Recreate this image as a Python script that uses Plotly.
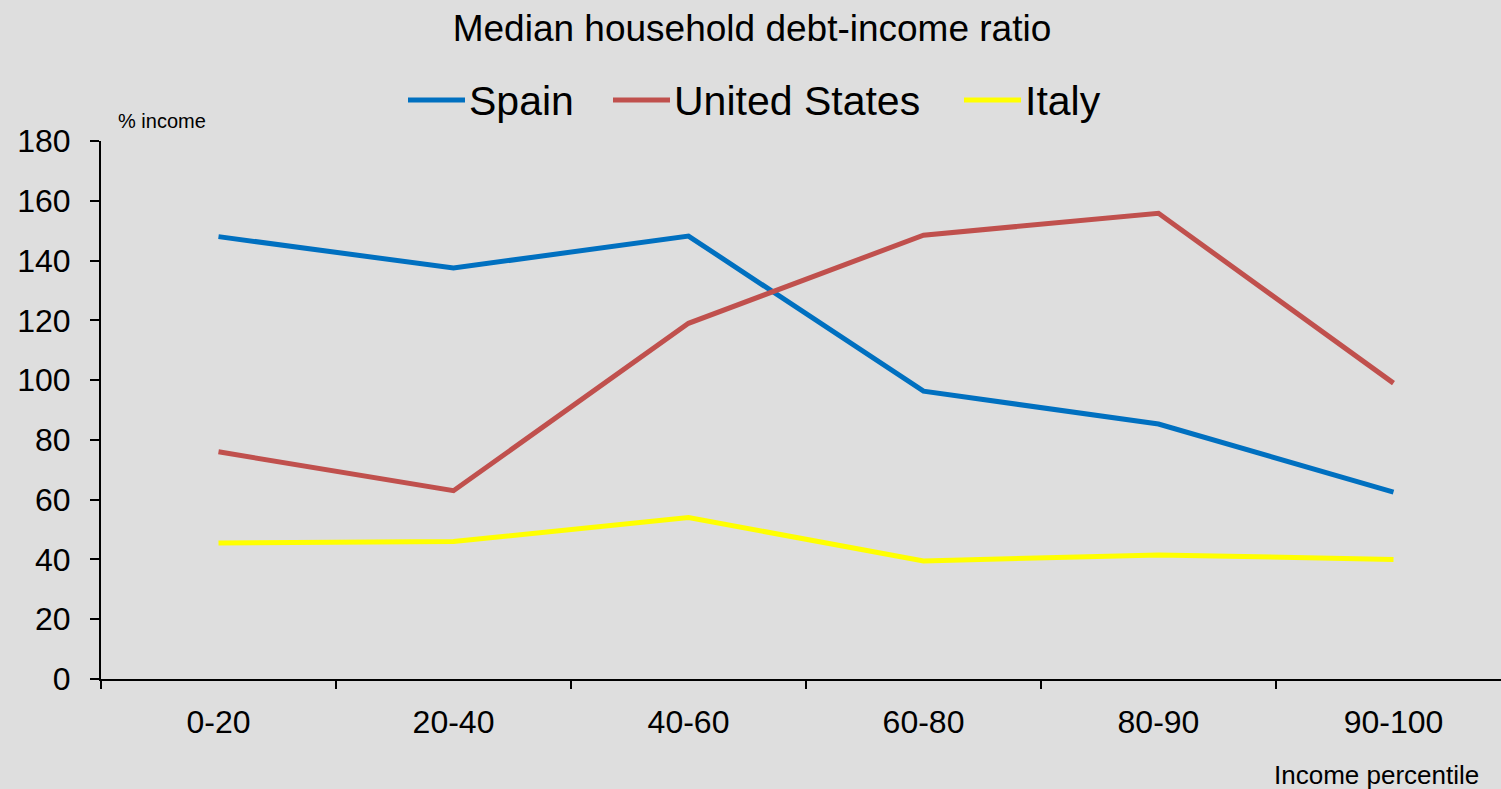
import plotly.graph_objects as go

# Income percentile groups
percentiles = ["0-20", "20-40", "40-60", "60-80", "80-90", "90-100"]

# Median debt-to-income ratio (% of income) by country
spain = [148, 137.5, 148.2, 96.3, 85.3, 62.5]
united_states = [76, 63, 119, 148.5, 155.8, 99]
italy = [45.5, 46, 54, 39.5, 41.5, 40]

y_ticks = [0, 20, 40, 60, 80, 100, 120, 140, 160, 180]

series = [
    ("Spain", spain, "#0070C0"),
    ("United States", united_states, "#C0504D"),
    ("Italy", italy, "#FFFF00"),
]

FONT = "Liberation Sans, Arial, sans-serif"
BG = "#DEDEDE"
W, H = 1501, 789
L, T, B = 101, 141, 110
PW, PH = W - L, H - T - B


def px_x(px):
    """Horizontal pixel -> paper coordinate."""
    return (px - L) / PW


def px_y(py):
    """Vertical pixel (from top) -> paper coordinate."""
    return (H - B - py) / PH


fig = go.Figure()
for name, values, color in series:
    fig.add_trace(go.Scatter(
        x=percentiles, y=values, name=name, mode="lines",
        line=dict(color=color, width=5), showlegend=False,
    ))

# Legend row: long line swatch followed by the series name
legend_y = 100
legend_items = [(408, 465), (613, 670), (964, 1021)]
for (name, _, color), (x0, x1) in zip(series, legend_items):
    fig.add_shape(
        type="line", xref="paper", yref="paper",
        x0=px_x(x0), x1=px_x(x1), y0=px_y(legend_y), y1=px_y(legend_y),
        line=dict(color=color, width=5),
    )
    fig.add_annotation(
        text=name, xref="paper", yref="paper",
        x=px_x(x1 + 2), y=px_y(legend_y + 1),
        xanchor="left", yanchor="middle", showarrow=False,
        font=dict(size=41, family=FONT, color="black"),
    )

fig.update_layout(
    width=W, height=H,
    paper_bgcolor=BG, plot_bgcolor=BG,
    font=dict(family=FONT, color="black"),
    margin=dict(l=L, r=0, t=T, b=B, autoexpand=False),
    title=dict(
        text="Median household debt-income ratio",
        x=752 / W, xanchor="center", xref="container",
        y=1 - 28 / H, yanchor="middle", yref="container",
        font=dict(size=37, family=FONT, color="black"),
    ),
    showlegend=False,
)

fig.update_xaxes(
    type="category",
    range=[-0.5, 5.5 - 10 / 235.2],
    showline=True, linecolor="black", linewidth=2,
    ticks="outside", tickson="boundaries", ticklen=8, tickwidth=2,
    tickcolor="black", showgrid=False, zeroline=False,
    tickfont=dict(size=32, family=FONT, color="black"),
    ticklabelstandoff=14,
)
fig.update_yaxes(
    range=[0, 180], tickvals=y_ticks,
    showline=True, linecolor="black", linewidth=2,
    ticks="outside", ticklen=9, tickwidth=2, tickcolor="black",
    showgrid=False, zeroline=False,
    tickfont=dict(size=32, family=FONT, color="black"),
    ticklabelstandoff=13,
)

fig.add_annotation(
    text="% income", xref="paper", yref="paper",
    x=px_x(116), y=px_y(121),
    xanchor="left", yanchor="middle", showarrow=False,
    font=dict(size=20, family=FONT, color="black"),
)
fig.add_annotation(
    text="Income percentile", xref="paper", yref="paper",
    x=px_x(1481), y=px_y(775),
    xanchor="right", yanchor="middle", showarrow=False,
    font=dict(size=26, family=FONT, color="black"),
)

fig.write_html("out.html")
